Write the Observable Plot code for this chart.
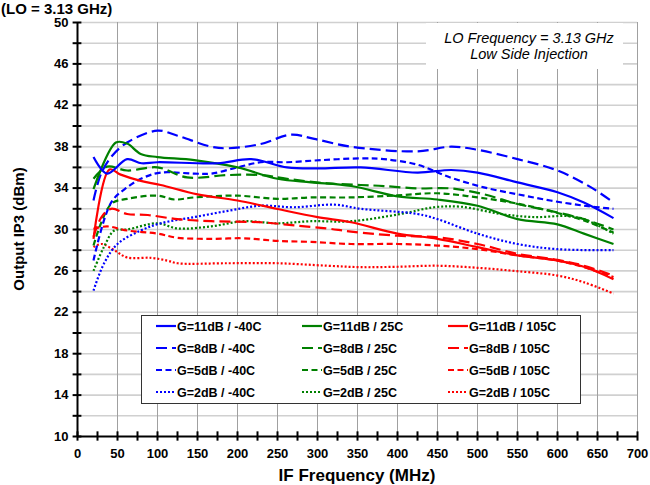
<!DOCTYPE html>
<html><head><meta charset="utf-8">
<script src="https://cdn.jsdelivr.net/npm/d3@7"></script>
<script src="https://cdn.jsdelivr.net/npm/@observablehq/plot@0.6"></script>
<style>
body{margin:0;background:#fff;}
#chart{position:relative;width:650px;height:485px;overflow:hidden;}
</style></head><body><div id="chart"></div>
<script>
// ---- data (IF frequency in MHz, output IP3 in dBm) ----
const f_b11 = [20,37,62,80,100,175,217,262,300,354,425,467,500,550,600,633,670];
const v_b11 = [37.0,35.4,36.8,36.4,36.5,36.4,36.8,36.0,35.9,36.0,35.5,35.75,35.5,34.55,33.6,32.6,31.1];
const f_b8 = [20,29,42,62,100,125,167,188,229,267,296,342,425,467,500,550,600,642,670];
const v_b8 = [32.8,35.3,37.0,38.4,39.55,39.06,38.0,37.85,38.26,39.16,38.75,38.0,37.55,38.0,37.7,36.8,35.7,34.07,32.6];
const f_b5 = [20,42,62,83,104,146,167,200,229,262,304,354,383,425,466,508,550,591,633,670];
const v_b5 = [27.0,32.6,34.07,35.03,35.5,35.4,35.4,36.0,36.5,36.5,36.7,36.87,36.8,36.26,35.03,34.07,33.4,32.8,32.3,32.0];
const f_b2 = [20,33,50,79,104,146,188,229,271,321,354,425,450,500,550,600,670];
const v_b2 = [24.1,26.7,28.6,29.9,30.6,31.2,31.8,32.3,32.15,32.4,32.0,31.5,31.0,29.6,28.6,28.1,28.0];

const f_g11 = [20,48,62,79,100,146,200,250,292,342,400,450,500,550,600,633,670];
const v_g11 = [33.9,38.4,38.3,37.3,37.0,36.7,36.0,34.9,34.56,34.2,33.2,32.9,32.3,31.0,30.5,29.6,28.6];
const f_g8 = [20,37,62,100,137,188,229,262,312,354,383,425,466,508,550,591,633,670];
const v_g8 = [34.9,36.07,35.7,36.0,35.03,35.26,35.26,34.9,34.46,34.3,34.2,33.97,33.97,33.4,32.46,31.8,31.0,30.0];
const f_g5 = [20,42,62,100,121,146,200,250,292,342,400,450,500,550,600,633,670];
const v_g5 = [28.45,32.46,32.96,33.27,32.9,33.1,33.27,32.96,33.1,33.1,33.3,33.5,33.1,32.5,31.6,30.87,29.7];
const f_g2 = [20,33,46,62,100,125,167,208,250,292,342,404,446,479,529,571,612,633,670];
const v_g2 = [26.0,28.3,29.9,30.0,30.6,30.1,30.3,30.8,30.6,30.8,30.8,31.5,32.15,32.2,31.5,31.2,31.3,31.0,29.6];

const f_r11 = [20,40,54,79,104,150,200,250,300,342,400,450,500,550,600,633,670];
const v_r11 = [29.1,35.8,35.3,34.7,34.3,33.4,32.8,31.98,31.2,30.7,29.6,29.1,28.3,27.5,27.0,26.4,25.2];
const f_r8 = [20,30,42,62,88,125,167,229,271,312,342,400,450,500,550,600,633,670];
const v_r8 = [29.3,31.2,32.0,31.5,31.4,31.0,30.8,30.7,30.4,30.1,29.8,29.4,29.25,28.6,27.65,27.07,26.5,25.55];
const f_r5 = [20,37,62,100,125,167,208,250,292,342,400,450,500,550,600,633,670];
const v_r5 = [30.07,30.3,29.9,29.6,29.2,29.1,29.15,28.9,28.8,28.6,28.6,28.45,28.1,27.5,27.0,26.36,25.4];
const f_r2 = [20,30,46,62,92,112,125,188,250,312,354,400,450,500,550,600,633,670];
const v_r2 = [28.3,28.6,28.0,27.3,27.26,27.0,26.74,26.74,26.74,26.5,26.36,26.4,26.5,26.3,25.97,25.55,24.9,23.8];

const seriesLabels = [
  "G=11dB / -40C","G=11dB / 25C","G=11dB / 105C",
  "G=8dB / -40C","G=8dB / 25C","G=8dB / 105C",
  "G=5dB / -40C","G=5dB / 25C","G=5dB / 105C",
  "G=2dB / -40C","G=2dB / 25C","G=2dB / 105C"
];
const freqTicks = [0,50,100,150,200,250,300,350,400,450,500,550,600,650,700];
const ipTicks = [10,14,18,22,26,30,34,38,42,46,50];

// ---- styling ----
const colors = {"-40C":"#0000ff","25C":"#008000","105C":"#ff0000"};
const dashes = {"11dB":null,"8dB":"11,5","5dB":"6,3.5","2dB":"2,2"};
const seriesData = [
  [f_b11,v_b11],[f_g11,v_g11],[f_r11,v_r11],
  [f_b8,v_b8],[f_g8,v_g8],[f_r8,v_r8],
  [f_b5,v_b5],[f_g5,v_g5],[f_r5,v_r5],
  [f_b2,v_b2],[f_g2,v_g2],[f_r2,v_r2]
];
const series = seriesLabels.map((label,i) => {
  const m = label.match(/G=(\w+) \/ (\S+)/);
  return {label, color: colors[m[2]], dash: dashes[m[1]],
    rows: seriesData[i][0].map((f,j)=>({f, v: seriesData[i][1][j]}))};
});

const lineMarks = series.slice().reverse().map(s => Plot.line(s.rows, {
  x:"f", y:"v", stroke: s.color, strokeWidth: 2.2, curve: "catmull-rom",
  strokeDasharray: s.dash || undefined, strokeLinecap: "butt"
}));

const chart = Plot.plot({
  width: 650, height: 485,
  marginLeft: 77, marginRight: 13, marginTop: 22, marginBottom: 49,
  x: {domain: [0,700]},
  y: {domain: [10,50]},
  style: {fontFamily: "'Liberation Sans', Arial, sans-serif", fontWeight: "bold", fontSize: "13px", color: "#000", background: "#fff", overflow: "visible"},
  marks: [
    Plot.ruleY(d3.range(12,51,2), {stroke:"#d0d0d0", strokeWidth:1.6}),
    Plot.ruleX(d3.range(50,701,50), {stroke:"#a0a0a0", strokeWidth:1}),
    ...lineMarks,
    Plot.ruleX([0], {stroke:"#000", strokeWidth:2}),
    Plot.ruleY([10], {stroke:"#000", strokeWidth:2}),
    Plot.ruleY(d3.range(10,51,2), {x1:-5.5, x2:5.5, stroke:"#000", strokeWidth:2}),
    Plot.ruleX(d3.range(0,701,25), {y1:9.55, y2:10.45, stroke:"#000", strokeWidth:2}),
    Plot.axisY(ipTicks, {tickSize:0, tickPadding:9, label:null, fontSize:13}),
    Plot.axisX(freqTicks, {tickSize:0, tickPadding:12, label:null, fontSize:13})
  ]
});
document.getElementById("chart").appendChild(chart);

const svg = d3.select(chart);
const font = "'Liberation Sans', Arial, sans-serif";

// title (top of page)
svg.append("text").attr("x",1).attr("y",13.5).attr("text-anchor","start").attr("font-size",15)
  .attr("font-weight","bold").attr("font-family",font).text("(LO = 3.13 GHz)");

// annotation box
svg.append("rect").attr("x",426).attr("y",23).attr("width",197).attr("height",46).attr("fill","#fff");
const ann = svg.append("g").attr("font-family",font).attr("font-style","italic").attr("font-weight","normal")
  .attr("font-size",14.5).attr("text-anchor","middle");
ann.append("text").attr("x",529).attr("y",43).text("LO Frequency = 3.13 GHz");
ann.append("text").attr("x",529).attr("y",59).text("Low Side Injection");

// axis titles
svg.append("text").attr("transform","translate(24,229) rotate(-90)").attr("text-anchor","middle")
  .attr("font-family",font).attr("font-weight","bold").attr("font-size",15).text("Output IP3 (dBm)");
svg.append("text").attr("x",357).attr("y",481).attr("text-anchor","middle")
  .attr("font-family",font).attr("font-weight","bold").attr("font-size",17).text("IF Frequency (MHz)");

// legend
const lg = svg.append("g");
lg.append("rect").attr("x",141.5).attr("y",315.5).attr("width",439).attr("height",88)
  .attr("fill","#fff").attr("stroke","#333").attr("stroke-width",1);
const colX = [156,302,448];
const rowY = [326,348,370,392];
series.forEach((s,i) => {
  const c = i % 3, r = Math.floor(i/3);
  lg.append("line").attr("x1",colX[c]).attr("x2",colX[c]+20).attr("y1",rowY[r]).attr("y2",rowY[r])
    .attr("stroke",s.color).attr("stroke-width",2.2).attr("stroke-dasharray", s.dash);
  lg.append("text").attr("x",colX[c]+21).attr("y",rowY[r]+4.5).attr("text-anchor","start")
    .attr("font-family",font).attr("font-weight","bold").attr("font-size",12.5).text(s.label);
});
</script>
</body></html>
